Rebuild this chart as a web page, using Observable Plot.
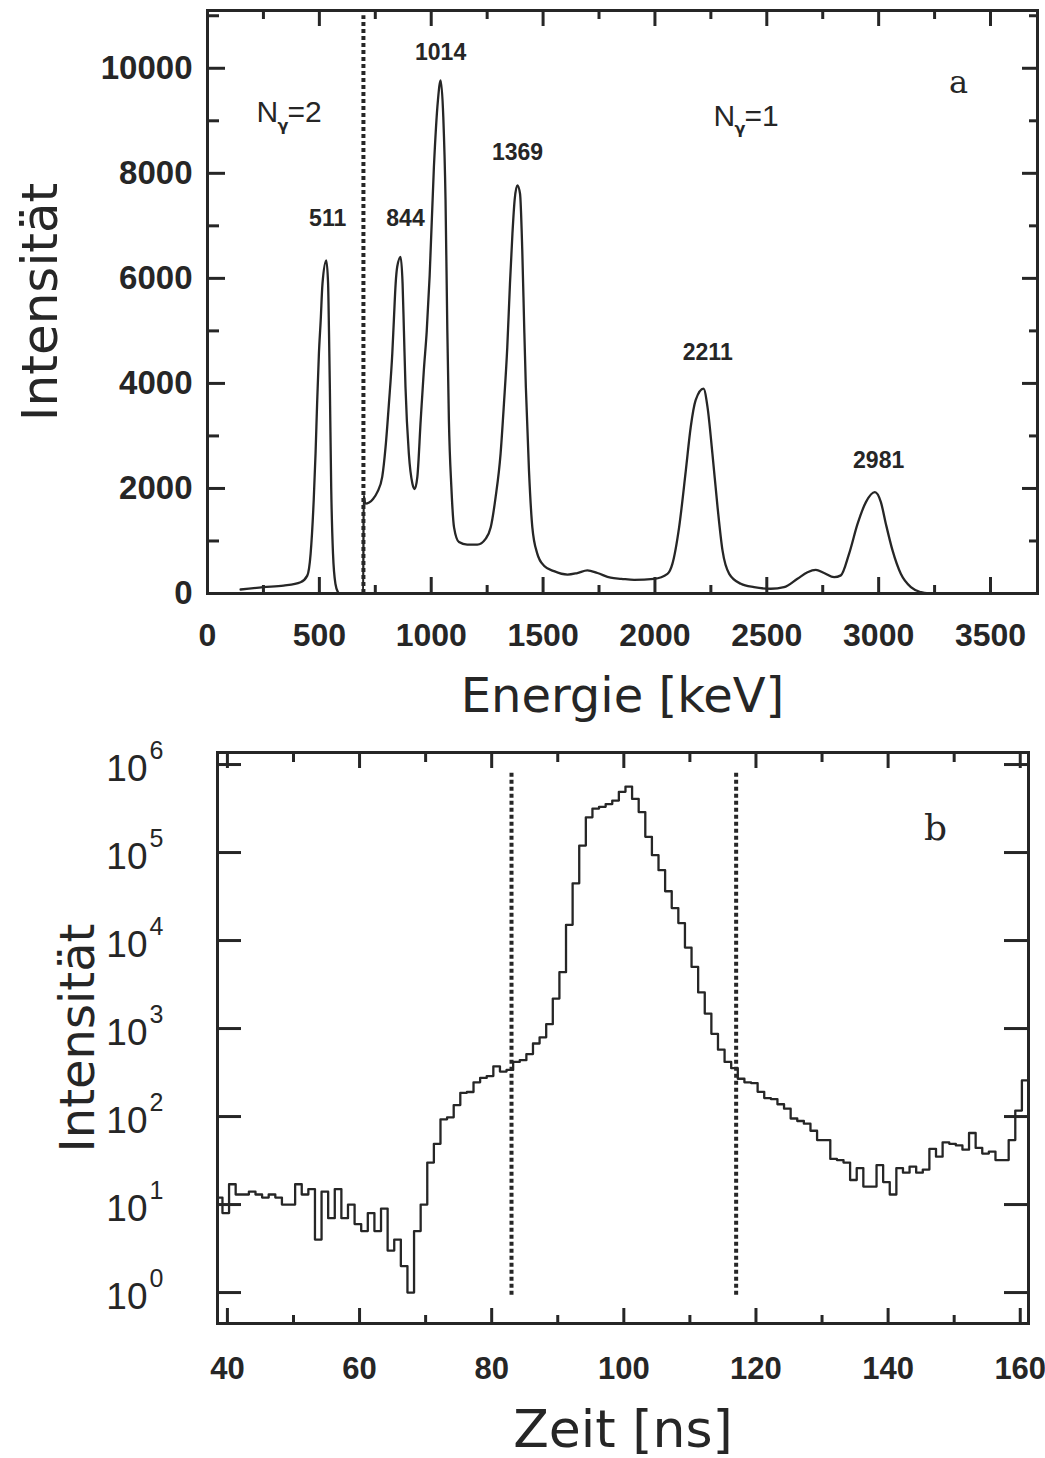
<!DOCTYPE html>
<html><head><meta charset="utf-8">
<script src="https://cdn.jsdelivr.net/npm/d3@7"></script>
<script src="https://cdn.jsdelivr.net/npm/@observablehq/plot@0.6"></script>
<style>
body{margin:0;background:#fff;}
#wrap{position:relative;width:1045px;height:1458px;overflow:hidden;background:#fff;}
#a{position:absolute;left:0;top:0;}
#b{position:absolute;left:0;top:730px;}
svg{overflow:visible}
</style></head><body><div id="wrap"><div id="a"></div><div id="b"></div></div>
<script>
// ---------- Panel a: energy spectrum ----------
const energie = [148,250,340,416,446,461,475,483,490,498,506,514,531,539,543,547,553,561,572,583,590,696,698,705,740,759,781,796,811,826,833,841,848,863,872,878,885,900,916,926,938,953,967,980,993,1012,1030,1042,1054,1064,1072,1079,1090,1102,1124,1161,1206,1243,1266,1288,1310,1325,1340,1352,1363,1373,1385,1397,1407,1416,1423,1437,1452,1474,1504,1549,1609,1653,1698,1743,1802,1850,1907,1996,2056,2078,2108,2138,2160,2182,2217,2235,2257,2280,2302,2332,2384,2443,2518,2577,2637,2682,2719,2756,2801,2831,2868,2906,2943,2983,3010,3032,3062,3099,3144,3189,3226];
const intensitaet = [76,120,150,215,340,760,1800,2670,3620,4570,5200,5900,6340,5900,5000,3900,2000,760,180,25,0,0,1870,1710,1800,1930,2220,2790,3620,4570,5200,5900,6220,6410,5900,5000,3930,2660,2090,1990,2220,3300,4250,5000,6050,8120,9390,9770,9070,7490,5010,3300,2030,1260,980,930,930,1040,1260,1840,2660,3610,4690,5900,6850,7500,7770,7610,6530,5010,3930,2340,1260,760,530,425,360,390,440,390,300,280,260,280,375,565,1260,2340,3170,3680,3900,3550,2660,1640,820,375,185,120,90,120,280,405,450,390,310,345,760,1330,1740,1930,1740,1330,820,375,120,25,0];
const peakLabels = ["511","844","1014","1369","2211","2981"];
const peakLabelE = [537,885,1042,1386,2236,3000];
const peakLabelI = [7140,7140,10300,8400,4590,2530];
const schnittA = [697];
const xTicksA = [0,500,1000,1500,2000,2500,3000,3500];
const xMinorA = [250,750,1250,1750,2250,2750,3250];
const yTicksA = [0,2000,4000,6000,8000,10000];
const yMinorA = [1000,3000,5000,7000,9000,11000];
const multLabels = [{e:219, v:9160, n:"2"}, {e:2262, v:9090, n:"1"}];

// ---------- Panel b: time spectrum ----------
const zeitStart = 38.25;  // left edge of first 1 ns bin
const zaehlrate = [12,8,17,13,13,14,13,12,13,12,10,10,17,13,15,4,14,7,15,7,10,6,5,8,5,9,3,4,2,1,5,10,
  30,49,93,98,135,186,190,245,275,288,372,324,339,417,437,513,676,794,1122,2190,4370,15100,44700,120000,251000,316000,331000,355000,389000,490000,562000,
  407000,288000,151000,93300,63100,36300,23400,15800,8320,5010,2570,1480,871,575,417,355,269,245,240,191,162,158,138,123,95,89,83,69,54,54,33,32,30,19,26,16,16,28,18,13,26,23,27,23,25,43,35,51,49,47,42,65,44,38,40,32,32,54,117,257];
const schnittB = [83, 117];
const xTicksB = [40,60,80,100,120,140,160];
const xMinorB = [50,70,90,110,130,150];
const yTicksB = [1,10,100,1000,10000,100000,1000000];
const yExpB = ["0","1","2","3","4","5","6"];

const ink = "#262626";
const sans = "'DejaVu Sans', sans-serif";
const lib = "'Liberation Sans', Arial, sans-serif";
const serif = "'DejaVu Serif', 'Liberation Serif', serif";

// ----- Plot a -----
const HA = 730, mtA = 10, mbA = 137, mlA = 207, mrA = 8;
const fhA = HA - mtA - mbA, fwA = 1045 - mlA - mrA;
const spectrum = energie.map((e, i) => ({e, v: intensitaet[i]}));
const peaks = peakLabels.map((t, i) => ({t, e: peakLabelE[i], v: peakLabelI[i]}));

const plotA = Plot.plot({
  width: 1045, height: HA, marginTop: mtA, marginBottom: mbA, marginLeft: mlA, marginRight: mrA,
  x: {domain: [0, 3710]},
  y: {domain: [0, 11100]},
  style: {background: "white", color: ink, fontFamily: sans, overflow: "visible"},
  marks: [
    Plot.line(spectrum, {x: "e", y: "v", curve: "monotone-x", stroke: ink, strokeWidth: 2.3}),
    Plot.ruleX(schnittA, {y1: 0, y2: 11000, stroke: ink, strokeWidth: 4, strokeDasharray: "4,3"}),
    Plot.tickX(xTicksA, {insetTop: fhA - 16, stroke: ink, strokeWidth: 3}),
    Plot.tickX(xMinorA, {insetTop: fhA - 8, stroke: ink, strokeWidth: 3}),
    Plot.tickX(xTicksA, {insetBottom: fhA - 16, stroke: ink, strokeWidth: 3}),
    Plot.tickX(xMinorA, {insetBottom: fhA - 9, stroke: ink, strokeWidth: 3}),
    Plot.tickY(yTicksA, {insetRight: fwA - 18, stroke: ink, strokeWidth: 3}),
    Plot.tickY(yMinorA, {insetRight: fwA - 12, stroke: ink, strokeWidth: 3}),
    Plot.tickY(yTicksA, {insetLeft: fwA - 15, stroke: ink, strokeWidth: 3}),
    Plot.tickY(yMinorA, {insetLeft: fwA - 8, stroke: ink, strokeWidth: 3}),
    Plot.frame({stroke: ink, strokeWidth: 3}),
    Plot.axisX({ticks: xTicksA, tickSize: 0, tickPadding: 30, tickFormat: d => String(d), fontSize: 32, fontWeight: "bold", fontFamily: lib, label: null}),
    Plot.axisY({ticks: yTicksA, tickSize: 0, tickPadding: 15, tickFormat: d => String(d), fontSize: 33, fontWeight: "bold", fontFamily: lib, label: null}),
    Plot.text(peaks, {x: "e", y: "v", text: "t", fontSize: 23, fontWeight: "bold", fontFamily: lib, fill: ink}),
    Plot.text(multLabels, {x: "e", y: "v", text: () => "N", textAnchor: "start", fontSize: 30, fontFamily: lib, fill: ink}),
    Plot.text(multLabels, {x: "e", y: "v", text: () => "γ", textAnchor: "start", dx: 21, dy: 13, fontSize: 16, fontWeight: "bold", fill: ink}),
    Plot.text(multLabels, {x: "e", y: "v", text: d => "=" + d.n, textAnchor: "start", dx: 31, fontSize: 30, fontFamily: lib, fill: ink}),
    Plot.text(["a"], {frameAnchor: "top-right", dx: -79, dy: 72, textAnchor: "middle", lineAnchor: "middle", fontSize: 32, fontFamily: serif, fill: ink}),
    Plot.text(["Energie [keV]"], {frameAnchor: "bottom", dy: 103, textAnchor: "middle", lineAnchor: "middle", fontSize: 48, fill: ink}),
    Plot.text(["Intensität"], {frameAnchor: "left", dx: -167, rotate: -90, textAnchor: "middle", lineAnchor: "middle", fontSize: 50, fill: ink})
  ]
});
document.getElementById("a").append(plotA);

// ----- Plot b -----
const HB = 728, mtB = 22, mbB = 135, mlB = 217, mrB = 17;
const fhB = HB - mtB - mbB, fwB = 1045 - mlB - mrB;
const bins = zaehlrate.map((c, i) => ({t: zeitStart + i, c}));
bins.push({t: zeitStart + zaehlrate.length, c: zaehlrate[zaehlrate.length - 1]});
const decades = yTicksB.map((v, i) => ({v, p: yExpB[i]}));

const plotB = Plot.plot({
  width: 1045, height: HB, marginTop: mtB, marginBottom: mbB, marginLeft: mlB, marginRight: mrB,
  x: {domain: [38.5, 161.25]},
  y: {type: "log", domain: [0.445, 1.37e6]},
  style: {background: "transparent", color: ink, fontFamily: sans, overflow: "visible"},
  marks: [
    Plot.line(bins, {x: "t", y: "c", curve: "step-after", stroke: ink, strokeWidth: 2.3, clip: true}),
    Plot.ruleX(schnittB, {y1: 0.93, y2: 8.2e5, stroke: ink, strokeWidth: 4, strokeDasharray: "4,3"}),
    Plot.tickX(xTicksB, {insetTop: fhB - 15, stroke: ink, strokeWidth: 3}),
    Plot.tickX(xMinorB, {insetTop: fhB - 8, stroke: ink, strokeWidth: 3}),
    Plot.tickX(xTicksB, {insetBottom: fhB - 16, stroke: ink, strokeWidth: 3}),
    Plot.tickX(xMinorB, {insetBottom: fhB - 10, stroke: ink, strokeWidth: 3}),
    Plot.tickY(yTicksB, {insetRight: fwB - 24, stroke: ink, strokeWidth: 3}),
    Plot.tickY(yTicksB, {insetLeft: fwB - 24, stroke: ink, strokeWidth: 3}),
    Plot.frame({stroke: ink, strokeWidth: 3}),
    Plot.axisX({ticks: xTicksB, tickSize: 0, tickPadding: 33, tickFormat: d => String(d), fontSize: 31, fontWeight: "bold", fontFamily: lib, label: null}),
    Plot.axisY({ticks: yTicksB, tickSize: 0, tickPadding: 70, tickFormat: () => "10", fontSize: 37, fontFamily: lib, dy: 5, label: null}),
    Plot.text(decades, {frameAnchor: "left", y: "v", text: "p", dx: -68, dy: -14, textAnchor: "start", fontSize: 25, fontFamily: lib, fill: ink}),
    Plot.text(["b"], {frameAnchor: "top-right", dx: -93, dy: 76, textAnchor: "middle", lineAnchor: "middle", fontSize: 36, fontFamily: serif, fill: ink}),
    Plot.text(["Zeit [ns]"], {frameAnchor: "bottom", dy: 107, textAnchor: "middle", lineAnchor: "middle", fontSize: 52, fill: ink}),
    Plot.text(["Intensität"], {frameAnchor: "left", dx: -139, rotate: -90, textAnchor: "middle", lineAnchor: "middle", fontSize: 48, fill: ink})
  ]
});
document.getElementById("b").append(plotB);
</script>
</body></html>
